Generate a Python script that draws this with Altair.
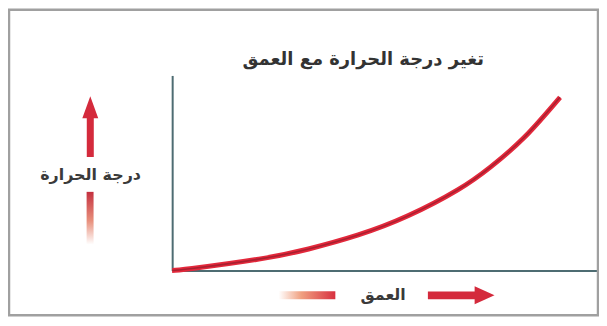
import altair as alt
import pandas as pd

# Curve (depth 0-100 across the axis, temperature 0-100 up the axis)
depth = [0, 4.7, 20.4, 32.1, 43.8, 55.5, 67.2, 74.9, 82.9, 91.3]
temperature = [0, 1.0, 5.8, 11.0, 18.2, 28.0, 41.3, 53.0, 68.3, 88.8]

title_text = "تغير درجة الحرارة مع العمق"
y_label = "درجة الحرارة"
x_label = "العمق"

FONT = "DejaVu Sans"
RED = "#d42a3c"
AXIS = "#4e6c72"

df = pd.DataFrame({"depth": depth, "temp": temperature})
one = pd.DataFrame({"a": [0]})

xs = alt.Scale(domain=[0, 100], nice=False, zero=False)
ys = alt.Scale(domain=[0, 100], nice=False, zero=False)

base = alt.Chart(df).encode(
    x=alt.X("depth:Q", scale=xs,
            axis=alt.Axis(title=None, labels=False, ticks=False, grid=False,
                          domainColor=AXIS, domainWidth=2)),
    y=alt.Y("temp:Q", scale=ys,
            axis=alt.Axis(title=None, labels=False, ticks=False, grid=False,
                          domainColor=AXIS, domainWidth=2)),
)
curve_outer = base.mark_line(color="#e3283b", strokeWidth=5, interpolate="natural")
curve_inner = base.mark_line(color="#a82030", strokeWidth=1.6, interpolate="natural")

frame = alt.Chart(one).mark_rect(fill=None, stroke="#a0a0a0", strokeWidth=2.5).encode(
    x=alt.value(-164), x2=alt.value(428), y=alt.value(-66), y2=alt.value(241)
)

title = alt.Chart(one).mark_text(font=FONT, fontSize=18, fontWeight="bold", color="#333333").encode(
    x=alt.value(192), y=alt.value(-15), text=alt.value(title_text)
)
ylab = alt.Chart(one).mark_text(font=FONT, fontSize=16, fontWeight="bold", color="#3a3a3a").encode(
    x=alt.value(-82), y=alt.value(100), text=alt.value(y_label)
)
xlab = alt.Chart(one).mark_text(font=FONT, fontSize=16, fontWeight="bold", color="#3a3a3a").encode(
    x=alt.value(212), y=alt.value(221), text=alt.value(x_label)
)

up_path = "M0,-3.81L1,-1.06L0.44,-1.06L0.44,3.81L-0.44,3.81L-0.44,-1.06L-1,-1.06Z"
up_arrow = alt.Chart(one).mark_point(shape=up_path, filled=True, opacity=1, color=RED, size=256).encode(
    x=alt.value(-82.3), y=alt.value(51.5)
)
right_path = "M3.72,0L1.5,-1L1.5,-0.44L-3.72,-0.44L-3.72,0.44L1.5,0.44L1.5,1Z"
right_arrow = alt.Chart(one).mark_point(shape=right_path, filled=True, opacity=1, color=RED, size=324).encode(
    x=alt.value(290.5), y=alt.value(221)
)

v_grad = alt.Gradient(
    gradient="linear", x1=0, x2=0, y1=0, y2=1,
    stops=[alt.GradientStop(color="#c4303f", offset=0),
           alt.GradientStop(color="#e8907c", offset=0.55),
           alt.GradientStop(color="#ffffff", offset=1)],
)
v_fade = alt.Chart(one).mark_rect(fill=v_grad).encode(
    x=alt.value(-86), x2=alt.value(-79), y=alt.value(117), y2=alt.value(170)
)
h_grad = alt.Gradient(
    gradient="linear", x1=0, x2=1, y1=0, y2=0,
    stops=[alt.GradientStop(color="#ffffff", offset=0),
           alt.GradientStop(color="#f0a080", offset=0.4),
           alt.GradientStop(color="#d8303f", offset=1)],
)
h_fade = alt.Chart(one).mark_rect(fill=h_grad).encode(
    x=alt.value(107), x2=alt.value(164), y=alt.value(217), y2=alt.value(225)
)

chart = alt.layer(
    frame, curve_outer, curve_inner, title, ylab, xlab, up_arrow, right_arrow, v_fade, h_fade
).properties(
    width=427, height=196,
    padding={"left": 165, "top": 67, "right": 2, "bottom": 47},
    autosize=alt.AutoSizeParams(type="none"),
    background="white",
).configure_view(stroke=None)

chart.save("out.html", embed_options={"renderer": "svg", "actions": False})
